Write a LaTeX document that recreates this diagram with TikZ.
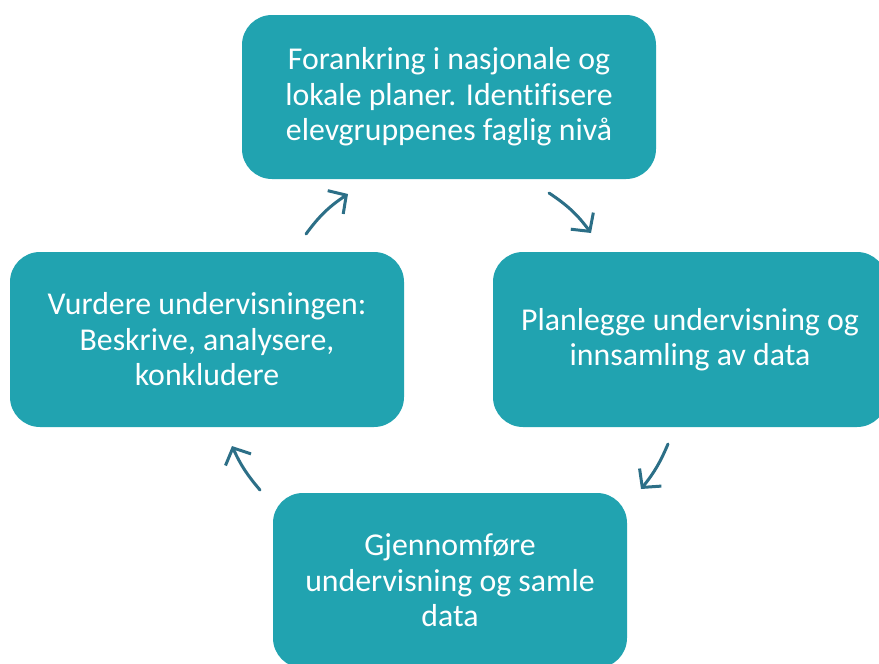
\documentclass[tikz,border=0pt]{standalone}
\usepackage{fontspec}
\setmainfont{Carlito}[Ligatures=NoCommon]
\usetikzlibrary{arrows.meta}
\definecolor{boxfill}{HTML}{21A3B0}
\definecolor{cyclearrow}{HTML}{2C6F87}
\begin{document}
\begin{tikzpicture}[x=1pt,y=-1pt,
  stepbox/.style={fill=boxfill, rounded corners=30pt, inner sep=0pt,
    align=center, text=white, font=\fontsize{31.8}{35.5}\selectfont},
  cyclestep/.style={draw=cyclearrow, line width=3pt, line cap=round,
    -{Straight Barb[length=13pt,width=28pt,line width=3pt]}}]
  \useasboundingbox (0,0) rectangle (879,664);
  \fill[white] (0,0) rectangle (879,664);
  \clip (0,0) rectangle (879,664);

  % the four stages of the cycle
  \node[stepbox, minimum width=414pt, minimum height=164pt] (top) at (449,97)
    {Forankring i nasjonale og\\lokale planer. Identifisere\\elevgruppenes faglig nivå};
  \node[stepbox, minimum width=394pt, minimum height=175pt] (right) at (690,339.5)
    {Planlegge undervisning og\\innsamling av data};
  \node[stepbox, minimum width=354pt, minimum height=175pt] (bottom) at (450,580.5)
    {Gjennomføre\\undervisning og samle\\data};
  \node[stepbox, minimum width=394pt, minimum height=175pt] (left) at (207,339.5)
    {Vurdere undervisningen:\\Beskrive, analysere,\\konkludere};

  % arrow end points between the stages
  \coordinate (ltA) at (306,234);
  \coordinate (ltB) at (348,194);
  \coordinate (trA) at (549,193);
  \coordinate (trB) at (591,233);
  \coordinate (rbA) at (668,444);
  \coordinate (rbB) at (641,489);
  \coordinate (blA) at (260,490);
  \coordinate (blB) at (232,446);

  \draw[cyclestep] (ltA) to[bend left=10] (ltB);
  \draw[cyclestep] (trA) to[bend left=10] (trB);
  \draw[cyclestep] (rbA) to[bend left=8] (rbB);
  \draw[cyclestep] (blA) to[bend left=8] (blB);
\end{tikzpicture}
\end{document}
